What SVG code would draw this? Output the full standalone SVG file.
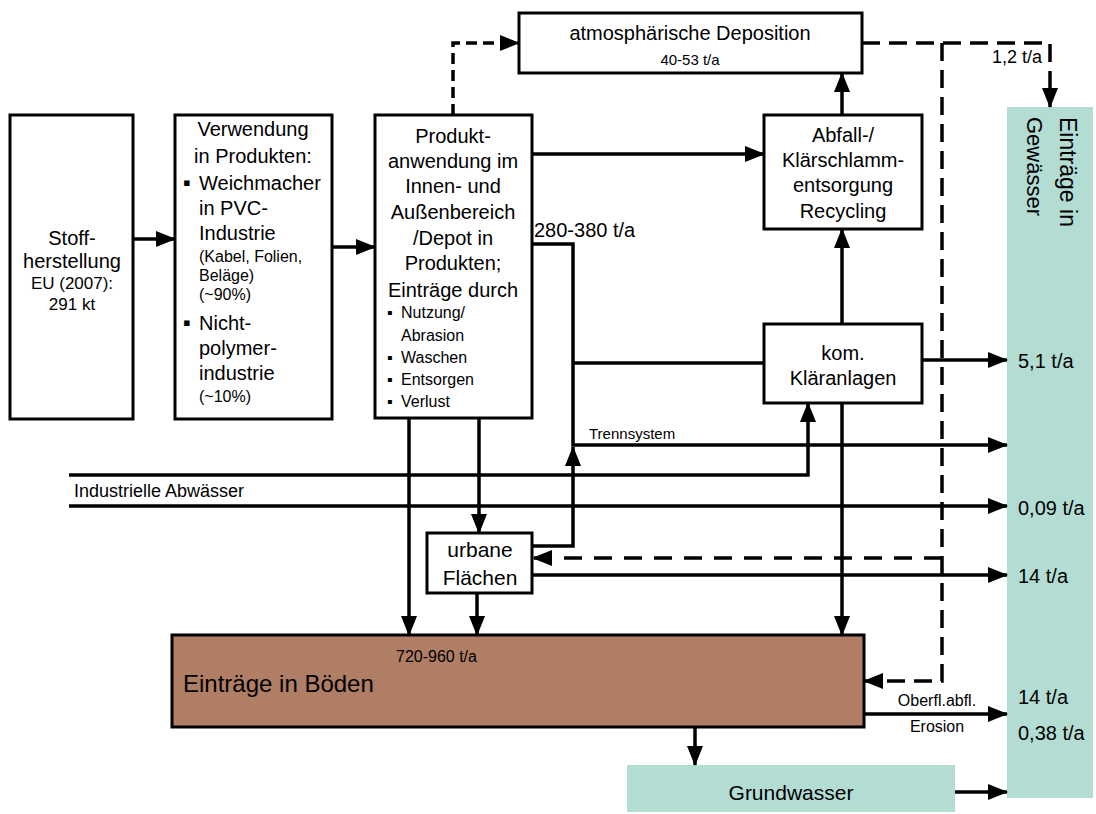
<svg xmlns="http://www.w3.org/2000/svg" width="1096" height="814" viewBox="0 0 1096 814">
<defs>
<marker id="ah" markerUnits="userSpaceOnUse" markerWidth="20" markerHeight="16" refX="19" refY="8" orient="auto">
<path d="M0,0 L20,8 L0,16 z" fill="#000"/>
</marker>
<style>
.box{fill:#fff;stroke:#000;stroke-width:3}
.t{font-family:"Liberation Sans",Arial,sans-serif;fill:#000}
.c{text-anchor:middle}
.f20{font-size:20px}
.f16{font-size:16px}
.f15{font-size:15px}
.f17{font-size:17px}
.ln{fill:none;stroke:#000;stroke-width:3.5}
.ar{marker-end:url(#ah)}
.d1{stroke-dasharray:11 6}
.d2{stroke-dasharray:18 9}
.d3{stroke-dasharray:18 12}
.green{fill:#b3dcd3}
</style>
</defs>
<rect width="1096" height="814" fill="#fff"/>

<g id="gewaesser">
<rect class="green" x="1007" y="107" width="86" height="691"/>
<text class="t" font-size="23" transform="translate(1060,117) rotate(90)">Einträge in</text>
<text class="t" font-size="22" transform="translate(1027,117) rotate(90)">Gewässer</text>
<text class="t f20" x="1018" y="368">5,1 t/a</text>
<text class="t f20" x="1018" y="515">0,09 t/a</text>
<text class="t f20" x="1018" y="583">14 t/a</text>
<text class="t f20" x="1018" y="704">14 t/a</text>
<text class="t f20" x="1018" y="740">0,38 t/a</text>
</g>

<g id="grundwasser">
<rect class="green" x="627" y="765" width="328" height="47"/>
<text class="t c" font-size="21" x="791" y="800">Grundwasser</text>
</g>

<g id="stoff">
<rect class="box" x="10" y="115" width="123" height="304"/>
<text class="t c f20" x="72" y="245">Stoff-</text>
<text class="t c f20" x="72" y="268">herstellung</text>
<text class="t c f17" x="72" y="289">EU (2007):</text>
<text class="t c f17" x="72" y="310">291 kt</text>
</g>

<g id="verwendung">
<rect class="box" x="175" y="115" width="157" height="304"/>
<text class="t c f20" x="253" y="136">Verwendung</text>
<text class="t c f20" x="253" y="163">in Produkten:</text>
<text class="t" font-size="22" x="183" y="190">▪</text>
<text class="t f20" x="199" y="190">Weichmacher</text>
<text class="t f20" x="199" y="215">in PVC-</text>
<text class="t f20" x="199" y="240">Industrie</text>
<text class="t f16" x="199" y="262">(Kabel, Folien,</text>
<text class="t f16" x="199" y="281">Beläge)</text>
<text class="t f16" x="199" y="300">(~90%)</text>
<text class="t" font-size="22" x="183" y="330">▪</text>
<text class="t f20" x="199" y="330">Nicht-</text>
<text class="t f20" x="199" y="355">polymer-</text>
<text class="t f20" x="199" y="380">industrie</text>
<text class="t f16" x="199" y="402">(~10%)</text>
</g>

<g id="produkt">
<rect class="box" x="375" y="115" width="157" height="303"/>
<text class="t c f20" x="453" y="143">Produkt-</text>
<text class="t c f20" x="453" y="168">anwendung im</text>
<text class="t c f20" x="453" y="193">Innen- und</text>
<text class="t c f20" x="453" y="219">Außenbereich</text>
<text class="t c f20" x="453" y="245">/Depot in</text>
<text class="t c f20" x="453" y="270">Produkten;</text>
<text class="t c f20" x="453" y="297">Einträge durch</text>
<text class="t f16" x="387" y="318">▪</text>
<text class="t f16" x="401" y="318">Nutzung/</text>
<text class="t f16" x="401" y="341">Abrasion</text>
<text class="t f16" x="387" y="363">▪</text>
<text class="t f16" x="401" y="363">Waschen</text>
<text class="t f16" x="387" y="385">▪</text>
<text class="t f16" x="401" y="385">Entsorgen</text>
<text class="t f16" x="387" y="407">▪</text>
<text class="t f16" x="401" y="407">Verlust</text>
</g>

<g id="atmosphaere">
<rect class="box" x="519" y="13" width="343" height="60"/>
<text class="t c f20" x="690" y="40">atmosphärische Deposition</text>
<text class="t c f15" x="690" y="65">40-53 t/a</text>
</g>

<g id="abfall">
<rect class="box" x="764" y="115" width="158" height="114"/>
<text class="t c f20" x="843" y="142">Abfall-/</text>
<text class="t c f20" x="843" y="167">Klärschlamm-</text>
<text class="t c f20" x="843" y="192">entsorgung</text>
<text class="t c f20" x="843" y="218">Recycling</text>
</g>

<g id="klaeranlagen">
<rect class="box" x="764" y="324" width="158" height="79"/>
<text class="t c f20" x="843" y="360">kom.</text>
<text class="t c f20" x="843" y="385">Kläranlagen</text>
</g>

<g id="urbane">
<rect class="box" x="427" y="533" width="105" height="60"/>
<text class="t c" font-size="21" x="480" y="557">urbane</text>
<text class="t c" font-size="21" x="480" y="585">Flächen</text>
</g>

<g id="boeden">
<rect x="172" y="635" width="692" height="92" fill="#b07d65" stroke="#000" stroke-width="3"/>
<text class="t f16" x="396" y="662">720-960 t/a</text>
<text class="t" font-size="24" x="183" y="692">Einträge in Böden</text>
</g>

<g id="connectors">
<path class="ln ar" d="M133,239 H175"/>
<path class="ln ar" d="M332,247 H375"/>
<path class="ln ar" d="M532,154 H764"/>
<path class="ln ar" d="M532,244 H573 V445 H1007"/>
<path class="ln" d="M573,363 H764"/>
<path class="ln ar" d="M842,324 V229"/>
<path class="ln ar" d="M842,115 V73"/>
<path class="ln ar" d="M922,360 H1007"/>
<path class="ln ar" d="M69,475 H808 V403"/>
<path class="ln ar" d="M69,506 H1007"/>
<path class="ln ar" d="M532,546 H573 V447"/>
<path class="ln ar" d="M532,575 H1007"/>
<path class="ln ar" d="M409,418 V635"/>
<path class="ln ar" d="M479,418 V533"/>
<path class="ln ar" d="M477,593 V635"/>
<path class="ln ar" d="M842,403 V635"/>
<path class="ln ar" d="M864,714 H1007"/>
<path class="ln ar" d="M695,727 V765"/>
<path class="ln ar" d="M955,792 H1007"/>
<path class="ln ar d1" d="M453,115 V43 H519"/>
<path class="ln ar d2" d="M862,43 H1050 V107"/>
<path class="ln ar d2" d="M942,43 V681 H864"/>
<path class="ln ar d3" d="M942,558 H533"/>
<text class="t f20" x="534" y="237">280-380 t/a</text>
<text class="t f15" x="589" y="439">Trennsystem</text>
<text class="t" font-size="18" x="74" y="497">Industrielle Abwässer</text>
<text class="t" font-size="18" x="992" y="63">1,2 t/a</text>
<text class="t c f16" x="937" y="706">Oberfl.abfl.</text>
<text class="t c f16" x="937" y="732">Erosion</text>
</g>
</svg>
